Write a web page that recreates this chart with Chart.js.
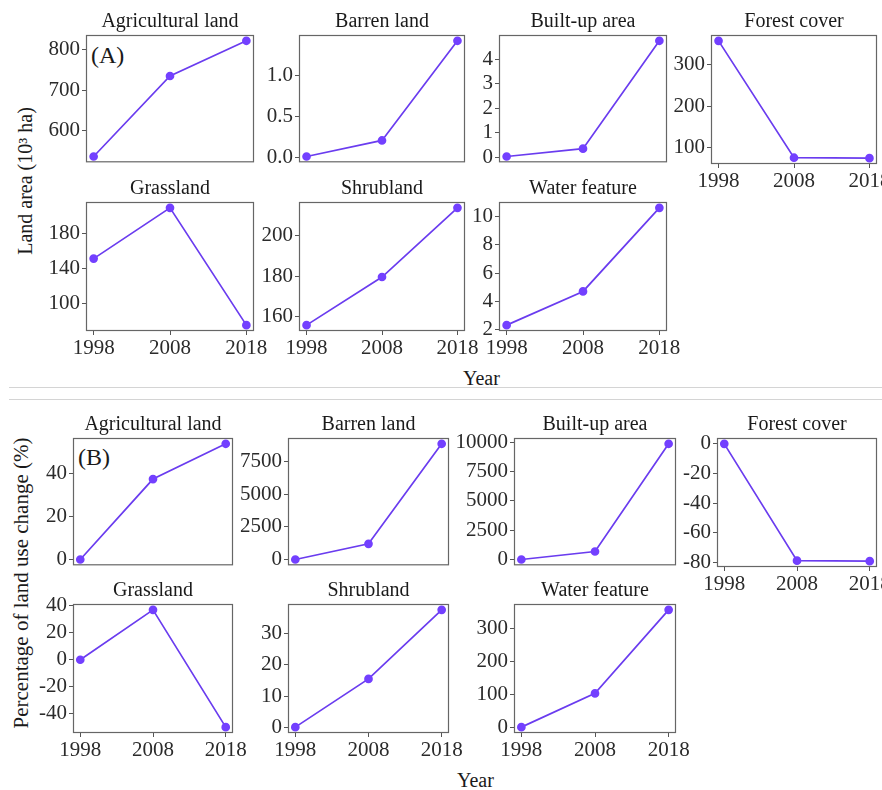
<!DOCTYPE html>
<html>
<head>
<meta charset="utf-8">
<script src="https://cdn.jsdelivr.net/npm/chart.js@4"></script>
<style>
  html, body { margin: 0; padding: 0; background: #fff; }
  #page { position: relative; width: 882px; height: 790px; overflow: hidden; font-family: "Liberation Serif", serif; color: #1a1a1a; }
  canvas { position: absolute; }
  .lbl { position: absolute; white-space: nowrap; line-height: 1; }
  .rot { transform: translate(-50%, -50%) rotate(-90deg); }
  .sep { position: absolute; left: 9px; right: 0; height: 1px; background: #d4d4d4; }
</style>
</head>
<body>
<div id="page">
  <div class="sep" style="top:387px"></div>
  <div class="sep" style="top:399px"></div>
  <div class="lbl rot" style="left:25px; top:181px; font-size:20px">Land area (10³ ha)</div>
  <div class="lbl rot" style="left:21px; top:583px; font-size:21px">Percentage of land use change (%)</div>
  <div class="lbl" style="left:463px; top:368px; font-size:20px">Year</div>
  <div class="lbl" style="left:457px; top:770px; font-size:20px">Year</div>
  <div class="lbl" style="left:91px; top:43px; font-size:24px">(A)</div>
  <div class="lbl" style="left:78px; top:445px; font-size:24px">(B)</div>
</div>
<script>
const years = [1998, 2008, 2018];
const landCovers = ['Agricultural land', 'Barren land', 'Built-up area', 'Forest cover', 'Grassland', 'Shrubland', 'Water feature'];

// (A) land area, 10^3 ha
const areaAgricultural = [536, 735, 822];
const areaBarren = [0.015, 0.21, 1.42];
const areaBuiltUp = [0.04, 0.36, 4.76];
const areaForest = [358, 76, 75];
const areaGrassland = [151, 209, 75];
const areaShrubland = [155.5, 179.5, 214];
const areaWater = [2.32, 4.7, 10.6];

// (B) percentage of land use change
const changeAgricultural = [0, 37.4, 53.8];
const changeBarren = [0, 1200, 8850];
const changeBuiltUp = [0, 680, 9850];
const changeForest = [0, -78.8, -79.1];
const changeGrassland = [0, 37, -50];
const changeShrubland = [0, 15.5, 37.7];
const changeWater = [0, 103, 358];

// y tick labels
const ticksAreaAgricultural = ['600', '700', '800'];
const ticksAreaBarren = ['0.0', '0.5', '1.0'];
const ticksAreaBuiltUp = ['0', '1', '2', '3', '4'];
const ticksAreaForest = ['100', '200', '300'];
const ticksAreaGrassland = ['100', '140', '180'];
const ticksAreaShrubland = ['160', '180', '200'];
const ticksAreaWater = ['2', '4', '6', '8', '10'];

const ticksChangeAgricultural = ['0', '20', '40'];
const ticksChangeBarren = ['0', '2500', '5000', '7500'];
const ticksChangeBuiltUp = ['0', '2500', '5000', '7500', '10000'];
const ticksChangeForest = ['-80', '-60', '-40', '-20', '0'];
const ticksChangeGrassland = ['-40', '-20', '0', '20', '40'];
const ticksChangeShrubland = ['0', '10', '20', '30'];
const ticksChangeWater = ['0', '100', '200', '300'];

const areaSeries = [areaAgricultural, areaBarren, areaBuiltUp, areaForest, areaGrassland, areaShrubland, areaWater];
const changeSeries = [changeAgricultural, changeBarren, changeBuiltUp, changeForest, changeGrassland, changeShrubland, changeWater];
const areaTicks = [ticksAreaAgricultural, ticksAreaBarren, ticksAreaBuiltUp, ticksAreaForest, ticksAreaGrassland, ticksAreaShrubland, ticksAreaWater];
const changeTicks = [ticksChangeAgricultural, ticksChangeBarren, ticksChangeBuiltUp, ticksChangeForest, ticksChangeGrassland, ticksChangeShrubland, ticksChangeWater];

// panel frames (left, right) per column and (top, bottom) per row
const layoutA = { cols: [[86, 254], [299, 465], [499, 667], [711, 877]], rows: [[35, 164], [202, 331]] };
const layoutB = { cols: [[73, 233], [288, 449], [514, 676], [717, 877]], rows: [[438, 567], [604, 733]] };

const FONT = 'Liberation Serif';
const LINE = '#6a3cef';
const POINT = '#7340ff';
const TITLE_H = 34, Y_W = 66, RIGHT_PAD = 24;

const boxBorder = {
    id: 'boxBorder',
    beforeDatasetsDraw(chart) {
        const a = chart.chartArea;
        const ctx = chart.ctx;
        ctx.save();
        ctx.strokeStyle = '#666';
        ctx.lineWidth = 1.2;
        ctx.strokeRect(a.left + 0.5, a.top + 0.5, a.right - a.left - 1, a.bottom - a.top - 1);
        ctx.restore();
    }
};

function makePanel(frame, i, values, tickLabels) {
    const row = i < 4 ? 0 : 1;
    const col = i % 4;
    const showX = row === 1 || col === 3;
    const [bl, br] = frame.cols[col];
    const [bt, bb] = frame.rows[row];
    const xH = showX ? 34 : 4;

    const canvas = document.createElement('canvas');
    canvas.width = Y_W + (br - bl) + RIGHT_PAD;
    canvas.height = TITLE_H + (bb - bt) + xH;
    canvas.style.left = (bl - Y_W) + 'px';
    canvas.style.top = (bt - TITLE_H) + 'px';
    document.getElementById('page').appendChild(canvas);

    // ggplot-like 5% expansion
    const lo = Math.min(...values), hi = Math.max(...values);
    const padY = (hi - lo) * 0.05;
    const tickVals = tickLabels.map(Number);

    new Chart(canvas, {
        type: 'line',
        data: {
            datasets: [{
                data: years.map((y, k) => ({ x: y, y: values[k] })),
                borderColor: LINE,
                borderWidth: 1.7,
                backgroundColor: POINT,
                pointBackgroundColor: POINT,
                pointBorderColor: POINT,
                pointRadius: 3.5,
                clip: false
            }]
        },
        options: {
            responsive: false,
            animation: false,
            layout: { padding: { right: RIGHT_PAD } },
            plugins: {
                legend: { display: false },
                tooltip: { enabled: false },
                title: {
                    display: true,
                    fullSize: false,
                    text: landCovers[i],
                    color: '#1a1a1a',
                    font: { family: FONT, size: 20, weight: 'normal' },
                    padding: { top: 9, bottom: 1 }
                }
            },
            scales: {
                x: {
                    type: 'linear',
                    min: 1997,
                    max: 2019,
                    border: { display: false },
                    grid: { display: showX, drawOnChartArea: false, drawTicks: true, tickLength: 4, color: '#555' },
                    ticks: {
                        display: showX,
                        color: '#2b2b2b',
                        font: { family: FONT, size: 21 },
                        padding: 1,
                        maxRotation: 0,
                        autoSkip: false,
                        callback: v => String(v)
                    },
                    afterBuildTicks: s => { s.ticks = years.map(v => ({ value: v })); },
                    afterFit: s => { s.height = xH; s.paddingLeft = 0; s.paddingRight = 0; }
                },
                y: {
                    type: 'linear',
                    min: lo - padY,
                    max: hi + padY,
                    border: { display: false },
                    grid: { drawOnChartArea: false, drawTicks: true, tickLength: 4, color: '#555' },
                    ticks: {
                        color: '#2b2b2b',
                        font: { family: FONT, size: 21 },
                        padding: 2,
                        callback: (v, idx) => tickLabels[idx]
                    },
                    afterBuildTicks: s => { s.ticks = tickVals.map(v => ({ value: v })); },
                    afterFit: s => { s.width = Y_W; s.paddingTop = 0; s.paddingBottom = 0; }
                }
            }
        },
        plugins: [boxBorder]
    });
}

landCovers.forEach((name, i) => {
    makePanel(layoutA, i, areaSeries[i], areaTicks[i]);
    makePanel(layoutB, i, changeSeries[i], changeTicks[i]);
});
</script>
</body>
</html>
